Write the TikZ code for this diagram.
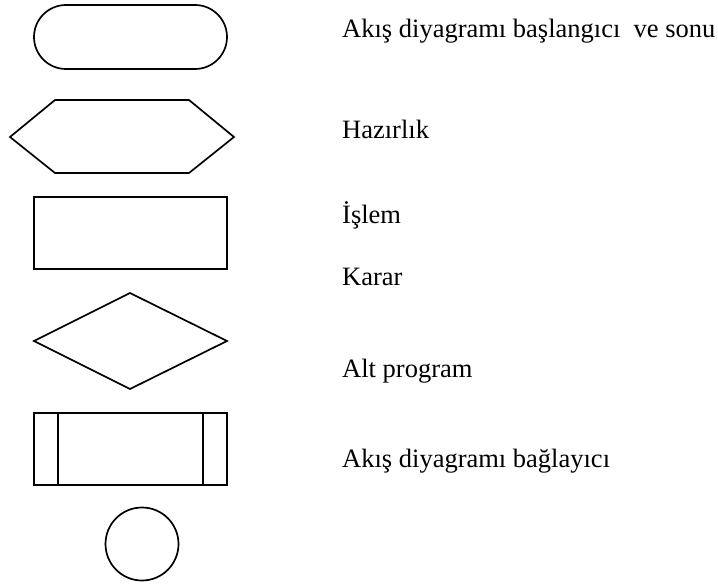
\documentclass[tikz,border=0pt]{standalone}
\usepackage{fontspec}
\setmainfont{Liberation Serif}
\begin{document}
\begin{tikzpicture}[x=1bp,y=-1bp,
  symbol/.style={draw=black,line width=1.7bp,line join=miter},
  legend/.style={anchor=base west,inner sep=0pt,font=\fontsize{26.5bp}{30bp}\selectfont}]
\useasboundingbox (0,0) rectangle (718,586);
% flowchart symbols
\draw[symbol,rounded corners=32bp] (34,5) rectangle (227,69);
\draw[symbol] (10,137) -- (55,100) -- (189,100) -- (234,137) -- (189,173) -- (55,173) -- cycle;
\draw[symbol] (34,197) rectangle (227,269);
\draw[symbol] (130,293) -- (227,341) -- (130,389) -- (34,341) -- cycle;
\draw[symbol] (34,413) rectangle (227,485);
\draw[symbol] (58,413) -- (58,485);
\draw[symbol] (203,413) -- (203,485);
\draw[symbol] (142,544) circle (36.5);
% descriptions
\node[legend] (t1) at (342,38) {Akış diyagramı başlangıcı\ \ ve sonu};
\node[legend] (t2) at (342,139) {Hazırlık};
\node[legend] (t3) at (342,223) {İşlem};
\node[legend] (t4) at (342,285) {Karar};
\node[legend] (t5) at (342,377) {Alt program};
\node[legend] (t6) at (342,467) {Akış diyagramı bağlayıcı};
\end{tikzpicture}
\end{document}
